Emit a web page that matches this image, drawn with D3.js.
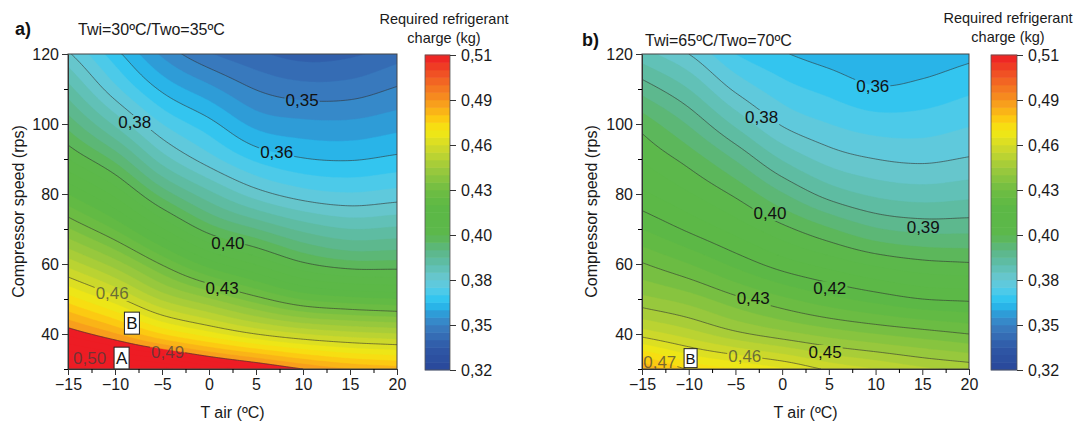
<!DOCTYPE html>
<html>
<head>
<meta charset="utf-8">
<script src="https://cdn.jsdelivr.net/npm/d3@7"></script>
<style>
  body { margin: 0; background: #fff; }
  svg { font-family: "Liberation Sans", Arial, sans-serif; }
</style>
</head>
<body>
<svg id="chart" width="1086" height="423"></svg>
<script>
// grid axes (T air in ºC, compressor speed in rps)
var tAir = [-15, -10, -5, 0, 5, 10, 15, 20];
var speed = [30, 40, 50, 60, 70, 80, 90, 100, 110, 120];

// required refrigerant charge (kg), one row per speed, one column per T air
var chargeA = [
  [0.5103, 0.5081, 0.5058, 0.4986, 0.4927, 0.4864, 0.4818, 0.4796],
  [0.4900, 0.4823, 0.4728, 0.4656, 0.4592, 0.4547, 0.4520, 0.4504],
  [0.4705, 0.4610, 0.4493, 0.4416, 0.4339, 0.4271, 0.4244, 0.4230],
  [0.4529, 0.4434, 0.4316, 0.4208, 0.4135, 0.4058, 0.4022, 0.4022],
  [0.4371, 0.4271, 0.4144, 0.4027, 0.3959, 0.3900, 0.3868, 0.3877],
  [0.4230, 0.4126, 0.3986, 0.3882, 0.3800, 0.3753, 0.3737, 0.3751],
  [0.4095, 0.3990, 0.3846, 0.3751, 0.3678, 0.3645, 0.3638, 0.3653],
  [0.3986, 0.3859, 0.3733, 0.3658, 0.3583, 0.3563, 0.3561, 0.3579],
  [0.3886, 0.3746, 0.3633, 0.3565, 0.3504, 0.3479, 0.3482, 0.3511],
  [0.3787, 0.3660, 0.3543, 0.3466, 0.3425, 0.3398, 0.3407, 0.3441]
];
var chargeB = [
  [0.4818, 0.4723, 0.4683, 0.4642, 0.4583, 0.4547, 0.4511, 0.4488],
  [0.4574, 0.4524, 0.4470, 0.4429, 0.4393, 0.4366, 0.4343, 0.4321],
  [0.4425, 0.4389, 0.4334, 0.4285, 0.4244, 0.4212, 0.4185, 0.4176],
  [0.4325, 0.4276, 0.4217, 0.4162, 0.4122, 0.4086, 0.4063, 0.4054],
  [0.4230, 0.4176, 0.4122, 0.4063, 0.4009, 0.3963, 0.3945, 0.3945],
  [0.4149, 0.4099, 0.4040, 0.3963, 0.3896, 0.3859, 0.3846, 0.3855],
  [0.4090, 0.4031, 0.3954, 0.3864, 0.3805, 0.3778, 0.3769, 0.3782],
  [0.4031, 0.3954, 0.3859, 0.3773, 0.3733, 0.3710, 0.3710, 0.3728],
  [0.3941, 0.3868, 0.3769, 0.3706, 0.3674, 0.3647, 0.3656, 0.3678],
  [0.3841, 0.3778, 0.3687, 0.3647, 0.3620, 0.3601, 0.3610, 0.3629]
];

// colour scale
var cbMin = 0.3235, cbMax = 0.5135, nBands = 42;
var overLevel = 0.4864;   // above the top contour line the map shows the top colour
var cbTickLabels = ["0,32", "0,35", "0,38", "0,40", "0,43", "0,46", "0,49", "0,51"];
var cmapStops = [0, 0.07, 0.143, 0.19, 0.215, 0.25, 0.286, 0.33, 0.38, 0.43, 0.52, 0.571, 0.64, 0.714, 0.76, 0.8, 0.857, 0.93, 1];
var cmapColors = ["#29479a", "#2f58a6", "#3a7fc2", "#2aa5de", "#27c3f2", "#4ccae9", "#69c8d6", "#5fbfaf",
                  "#5cb685", "#5cb84c", "#5cb845", "#6fbd43", "#9dca3c", "#d5db28", "#f4e912", "#fcc812",
                  "#f7941e", "#f15a24", "#ed1c24"];

// contour lines and their labels
var linesA = [0.3506, 0.3642, 0.3778, 0.4049, 0.4321, 0.4592, 0.4864];
var linesB = [0.3642, 0.3778, 0.3914, 0.4049, 0.4185, 0.4321, 0.4456, 0.4592, 0.4728];
var labelsA = [
  {text: "0,35", t: 9.9, n: 106.9}, {text: "0,36", t: 7.2, n: 92}, {text: "0,38", t: -7.9, n: 100.6},
  {text: "0,40", t: 2.0, n: 66}, {text: "0,43", t: 1.4, n: 53.1}, {text: "0,46", t: -10.3, n: 51.7, dim: true},
  {text: "0,49", t: -4.4, n: 34.9, dim: true}, {text: "0,50", t: -12.7, n: 33.1, dim: true}
];
var labelsB = [
  {text: "0,36", t: 9.7, n: 110.9}, {text: "0,38", t: -2.2, n: 102}, {text: "0,40", t: -1.3, n: 74.6},
  {text: "0,39", t: 15.1, n: 70.6}, {text: "0,42", t: 5.1, n: 53.1}, {text: "0,43", t: -3.1, n: 50.3},
  {text: "0,45", t: 4.6, n: 34.9}, {text: "0,46", t: -4, n: 33.7, dim: true}, {text: "0,47", t: -13.1, n: 32, dim: true}
];
var pointsA = [{text: "B", t: -8.2, n: 43.1}, {text: "A", t: -9.3, n: 33.1}];
var pointsB = [{text: "B", t: -9.8, n: 33.1}];

var svg = d3.select("#chart");
var step = (cbMax - cbMin) / nBands;
var cmap = d3.scaleLinear().domain(cmapStops).range(cmapColors).interpolate(d3.interpolateRgb);
var overIndex = Math.round((overLevel - cbMin) / step);

function bandColor(i) {
    if (i >= overIndex) return cmap(1);
    return cmap((i + 0.5) / nBands);
}

// catmull-rom resampling of the read grid so the contour lines come out smooth
function cr(p0, p1, p2, p3, t) {
    return 0.5 * (2 * p1 + (-p0 + p2) * t + (2 * p0 - 5 * p1 + 4 * p2 - p3) * t * t + (-p0 + 3 * p1 - 3 * p2 + p3) * t * t * t);
}
function at(g, r, c) {
    var R = g.length, C = g[0].length;
    if (r < 0) return 2 * at(g, 0, c) - at(g, 1, c);
    if (r >= R) return 2 * at(g, R - 1, c) - at(g, R - 2, c);
    if (c < 0) return 2 * at(g, r, 0) - at(g, r, 1);
    if (c >= C) return 2 * at(g, r, C - 1) - at(g, r, C - 2);
    return g[r][c];
}
function sample(g, u, v) {
    var c = Math.min(Math.floor(u), g[0].length - 2), r = Math.min(Math.floor(v), g.length - 2);
    var tu = u - c, tv = v - r, col = [];
    for (var k = -1; k <= 2; k++) {
        col.push(cr(at(g, r + k, c - 1), at(g, r + k, c), at(g, r + k, c + 1), at(g, r + k, c + 2), tu));
    }
    return cr(col[0], col[1], col[2], col[3], tv);
}

var dT = 0.25, dN = 0.5;
var nx = Math.round((tAir[tAir.length - 1] - tAir[0]) / dT) + 1;
var ny = Math.round((speed[speed.length - 1] - speed[0]) / dN) + 1;
var tStep = tAir[1] - tAir[0], nStep = speed[1] - speed[0];

function fineGrid(g) {
    var vals = new Array(nx * ny);
    for (var j = 0; j < ny; j++)
        for (var i = 0; i < nx; i++)
            vals[j * nx + i] = sample(g, i * dT / tStep, j * dN / nStep);
    return vals;
}

function drawPanel(p) {
    var x = d3.scaleLinear().domain([tAir[0], tAir[tAir.length - 1]]).range([p.x0, p.x1]);
    var y = d3.scaleLinear().domain([speed[0], speed[speed.length - 1]]).range([p.y1, p.y0]);
    var vals = fineGrid(p.grid);

    var proj = d3.geoTransform({
        point: function(cx, cy) {
            this.stream.point(x(tAir[0] + (cx - 0.5) * dT), y(speed[0] + (cy - 0.5) * dN));
        }
    });
    var path = d3.geoPath(proj);

    svg.append("clipPath").attr("id", "clip" + p.id)
        .append("rect").attr("x", p.x0).attr("y", p.y0)
        .attr("width", p.x1 - p.x0).attr("height", p.y1 - p.y0);

    var g = svg.append("g").attr("clip-path", "url(#clip" + p.id + ")");

    var levels = d3.range(0, nBands).map(function(i) { return cbMin + i * step; });
    var bands = d3.contours().size([nx, ny]).thresholds(levels)(vals);
    g.selectAll("path.band")
        .data(bands)
        .enter().append("path")
        .attr("class", "band")
        .attr("d", path)
        .attr("fill", function(d, i) { return bandColor(i); })
        .attr("stroke", function(d, i) { return bandColor(i); })
        .attr("stroke-width", 0.4);

    // labels first so their boxes can cut the lines
    var lab = svg.append("g").attr("font-size", "17px").attr("text-anchor", "middle");
    var texts = lab.selectAll("text")
        .data(p.labels)
        .enter().append("text")
        .attr("x", function(d) { return x(d.t); })
        .attr("y", function(d) { return y(d.n); })
        .attr("dy", "0.36em")
        .attr("fill", function(d) { return d.dim ? "#3c3c3c" : "#111"; })
        .attr("fill-opacity", function(d) { return d.dim ? 0.7 : 1; })
        .text(function(d) { return d.text; });

    var mask = svg.append("mask").attr("id", "mask" + p.id).attr("maskUnits", "userSpaceOnUse")
        .attr("x", 0).attr("y", 0).attr("width", 1086).attr("height", 423);
    mask.append("rect").attr("width", 1086).attr("height", 423).attr("fill", "#fff");
    texts.each(function() {
        var b = this.getBBox();
        mask.append("rect").attr("x", b.x - 1).attr("y", b.y + 2)
            .attr("width", b.width + 2).attr("height", b.height - 4).attr("fill", "#000");
    });

    var lines = d3.contours().size([nx, ny]).thresholds(p.lines)(vals);
    g.append("g").attr("mask", "url(#mask" + p.id + ")")
        .selectAll("path")
        .data(lines)
        .enter().append("path")
        .attr("d", path)
        .attr("fill", "none")
        .attr("stroke", "#333")
        .attr("stroke-opacity", 0.85)
        .attr("stroke-width", 0.7);

    lab.raise();

    // boxed operating points
    var pts = svg.append("g").selectAll("g")
        .data(p.points)
        .enter().append("g")
        .attr("transform", function(d) { return "translate(" + x(d.t) + "," + y(d.n) + ")"; });
    pts.append("rect")
        .attr("x", -p.boxW / 2).attr("y", -p.boxH / 2)
        .attr("width", p.boxW).attr("height", p.boxH)
        .attr("fill", "#fff").attr("stroke", "#222").attr("stroke-width", 1);
    pts.append("text")
        .attr("text-anchor", "middle").attr("dy", "0.36em")
        .attr("font-size", p.boxFont).attr("fill", "#111")
        .text(function(d) { return d.text; });

    // frame
    svg.append("rect").attr("x", p.x0).attr("y", p.y0)
        .attr("width", p.x1 - p.x0).attr("height", p.y1 - p.y0)
        .attr("fill", "none").attr("stroke", "#444").attr("stroke-width", 1);

    // axes
    var xAxis = svg.append("g").attr("transform", "translate(0," + p.y1 + ")")
        .call(d3.axisBottom(x).tickValues(tAir).tickSize(6).tickSizeOuter(0).tickPadding(4));
    svg.append("g").attr("transform", "translate(0," + p.y1 + ")")
        .call(d3.axisBottom(x).tickValues(d3.range(-12.5, 20, 5)).tickSize(4).tickFormat(""))
        .select(".domain").remove();
    var yAxis = svg.append("g").attr("transform", "translate(" + p.x0 + ",0)")
        .call(d3.axisLeft(y).tickValues([40, 60, 80, 100, 120]).tickSize(6).tickSizeOuter(0).tickPadding(3));
    svg.append("g").attr("transform", "translate(" + p.x0 + ",0)")
        .call(d3.axisLeft(y).tickValues([30, 50, 70, 90, 110]).tickSize(4).tickFormat(""))
        .select(".domain").remove();
    [xAxis, yAxis].forEach(function(a) {
        a.selectAll("text").attr("font-size", "16px").attr("fill", "#1a1a1a")
            .attr("font-family", "Liberation Sans, Arial, sans-serif");
        a.selectAll("line").attr("stroke", "#333");
        a.select(".domain").attr("stroke", "#333");
    });

    svg.append("text")
        .attr("x", (p.x0 + p.x1) / 2).attr("y", 418)
        .attr("text-anchor", "middle").attr("font-size", "16px").attr("fill", "#1a1a1a")
        .text("T air (ºC)");
    svg.append("text")
        .attr("transform", "translate(" + p.yTitleX + "," + ((p.y0 + p.y1) / 2) + ") rotate(-90)")
        .attr("text-anchor", "middle").attr("font-size", "16px").attr("fill", "#1a1a1a")
        .text("Compressor speed (rps)");

    svg.append("text").attr("x", p.tagX).attr("y", p.tagY)
        .attr("font-size", "18px").attr("font-weight", "bold").attr("fill", "#111")
        .text(p.tag);
    svg.append("text").attr("x", p.titleX).attr("y", p.tagY)
        .attr("font-size", "16px").attr("fill", "#1a1a1a")
        .text(p.title);

    // colour bar
    var cb = d3.scaleLinear().domain([cbMin, cbMax]).range([p.cbY1, p.cbY0]);
    svg.append("g").selectAll("rect")
        .data(levels)
        .enter().append("rect")
        .attr("x", p.cbX).attr("width", p.cbW)
        .attr("y", function(d) { return cb(d + step) - 0.3; })
        .attr("height", function(d) { return cb(d) - cb(d + step) + 0.6; })
        .attr("fill", function(d, i) { return cmap((i + 0.5) / nBands); });
    svg.append("rect").attr("x", p.cbX).attr("y", p.cbY0)
        .attr("width", p.cbW).attr("height", p.cbY1 - p.cbY0)
        .attr("fill", "none").attr("stroke", "#555").attr("stroke-width", 0.8);
    var tickVals = d3.range(0, cbTickLabels.length).map(function(k) {
        return cbMin + k * (cbMax - cbMin) / (cbTickLabels.length - 1);
    });
    var cbAxis = svg.append("g").attr("transform", "translate(" + (p.cbX + p.cbW) + ",0)")
        .call(d3.axisRight(cb).tickValues(tickVals).tickSize(6).tickPadding(5)
            .tickFormat(function(d, i) { return cbTickLabels[i]; }));
    cbAxis.select(".domain").remove();
    cbAxis.selectAll("text").attr("font-size", "16px").attr("fill", "#1a1a1a")
        .attr("font-family", "Liberation Sans, Arial, sans-serif");
    cbAxis.selectAll("line").attr("stroke", "#333");

    var ct = svg.append("text").attr("text-anchor", "middle").attr("font-size", "14.5px").attr("fill", "#1a1a1a");
    ct.append("tspan").attr("x", p.cbTitleX).attr("y", p.cbTitleY).text("Required refrigerant");
    ct.append("tspan").attr("x", p.cbTitleX).attr("y", p.cbTitleY + 19).text("charge (kg)");
}

drawPanel({
    id: "a", grid: chargeA, lines: linesA, labels: labelsA, points: pointsA,
    x0: 68, x1: 397, y0: 54, y1: 369, boxW: 15, boxH: 22, boxFont: "17px",
    yTitleX: 24, tag: "a)", tagX: 15, tagY: 35, title: "Twi=30ºC/Two=35ºC", titleX: 78,
    cbX: 425, cbW: 25, cbY0: 55, cbY1: 370, cbTitleX: 444, cbTitleY: 24
});
drawPanel({
    id: "b", grid: chargeB, lines: linesB, labels: labelsB, points: pointsB,
    x0: 642, x1: 969, y0: 54, y1: 369, boxW: 13, boxH: 19, boxFont: "15px",
    yTitleX: 597, tag: "b)", tagX: 582, tagY: 46, title: "Twi=65ºC/Two=70ºC", titleX: 645,
    cbX: 991, cbW: 26, cbY0: 55, cbY1: 370, cbTitleX: 1008, cbTitleY: 23
});
</script>
</body>
</html>
